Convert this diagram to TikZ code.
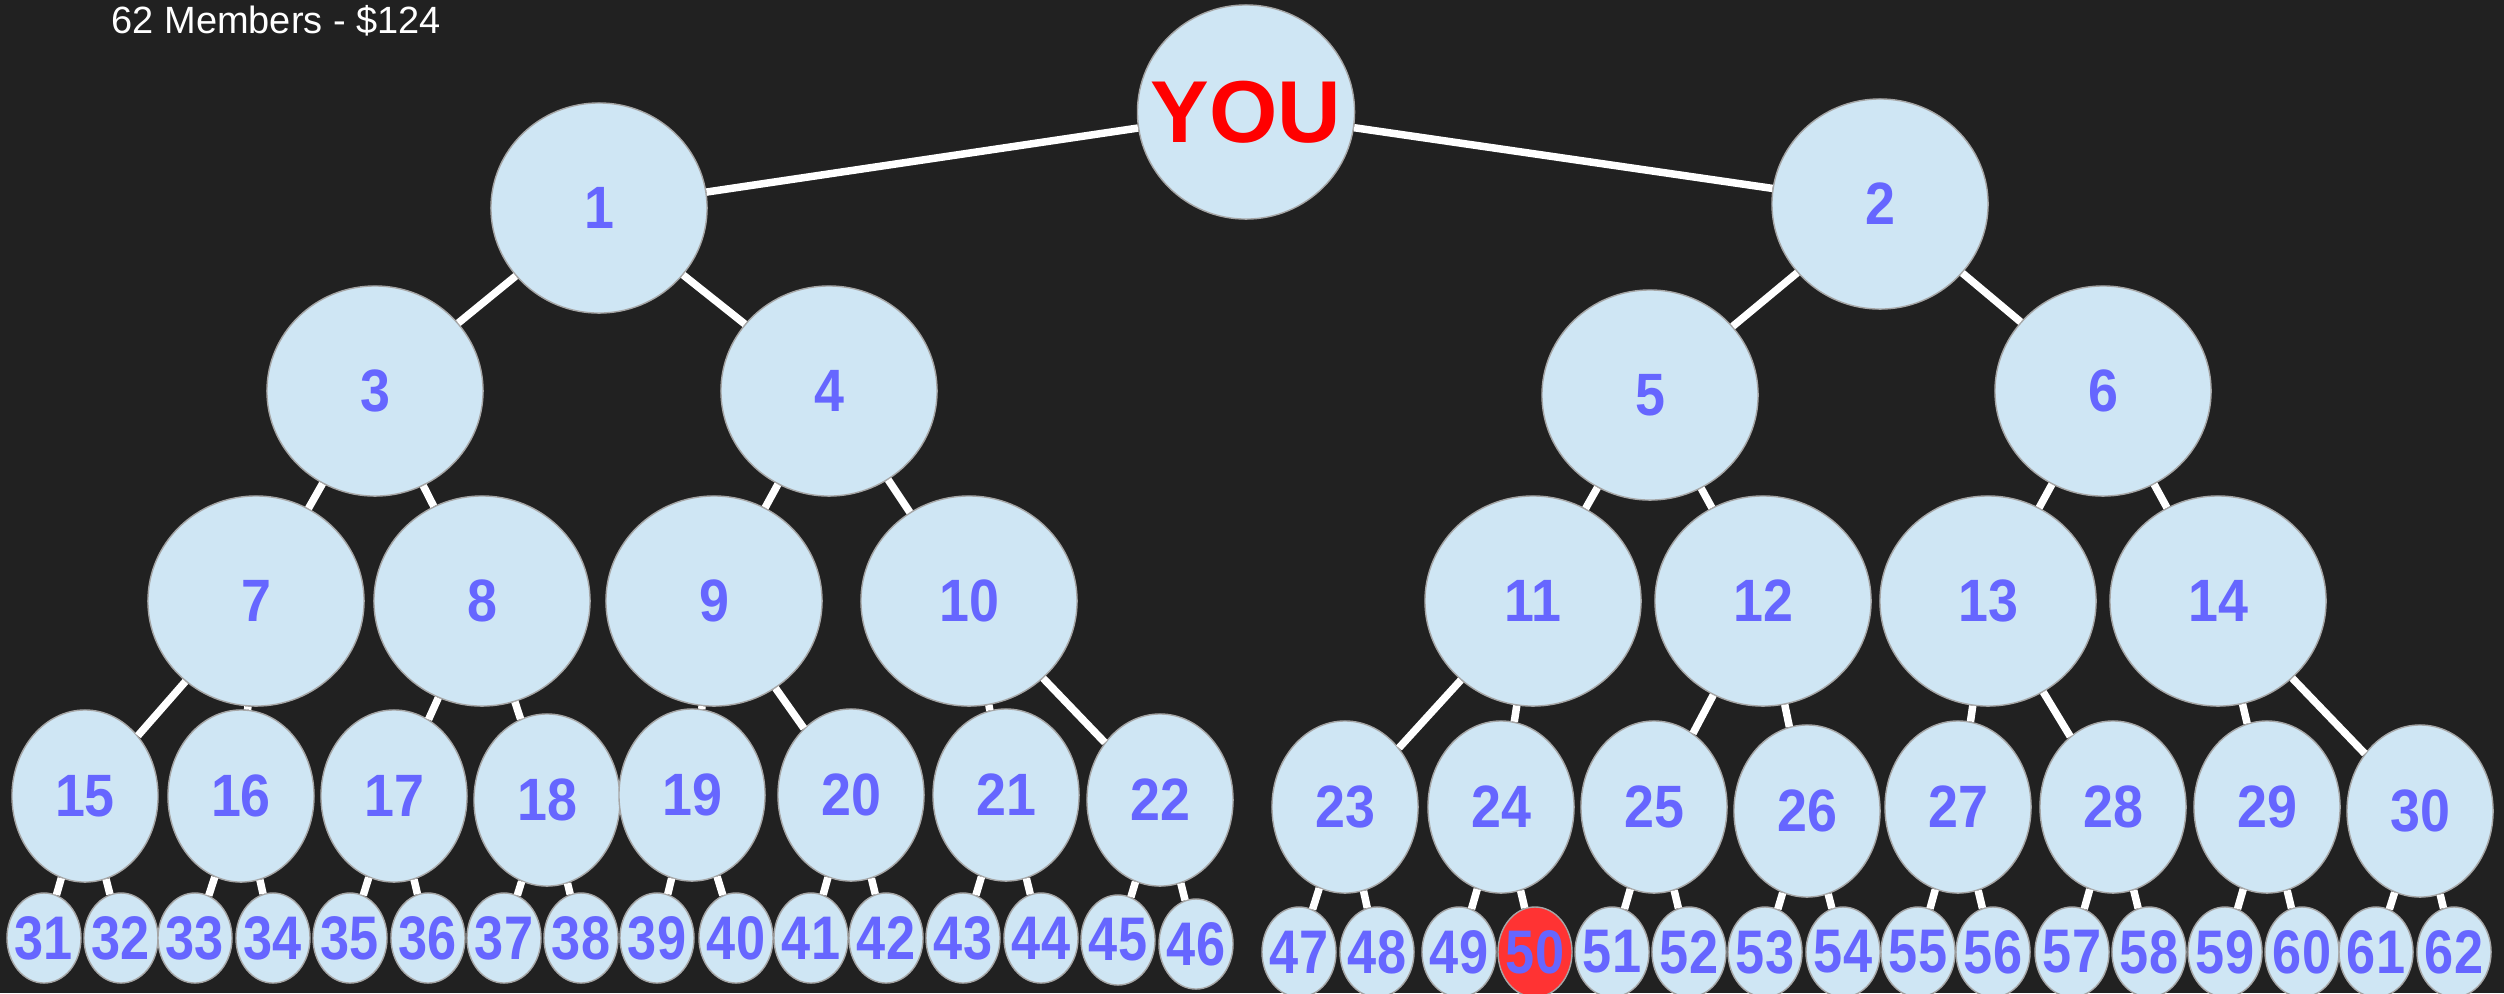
\documentclass[tikz,border=0pt]{standalone}
\usepackage{fontspec}
\setmainfont{Liberation Sans}
\newfontfamily\numfont{Liberation Sans}[FakeStretch=0.9]
\newfontfamily\leaffont{Liberation Sans}[FakeStretch=0.85]
\usepackage{xcolor}
\usetikzlibrary{shapes.geometric}

\definecolor{bgdark}{HTML}{212121}
\definecolor{bubblefill}{HTML}{CFE6F4}
\definecolor{numblue}{HTML}{6666FF}
\definecolor{hotred}{HTML}{FF3333}

\tikzset{
  bubble/.style={ellipse, draw=gray!70, line width=0.4pt, fill=bubblefill,
    inner sep=0pt, text=numblue,
    font=\numfont\fontsize{17}{20}\selectfont\bfseries},
  bigbubble/.style={bubble, minimum width=2.16cm, minimum height=2.10cm},
  midbubble/.style={bubble, minimum width=1.46cm, minimum height=1.72cm},
  leafbubble/.style={bubble, minimum width=0.74cm, minimum height=0.90cm,
    font=\leaffont\fontsize{17.5}{20}\selectfont\bfseries},
  link/.style={white, line width=0.075cm}
}

\begin{document}
\begin{tikzpicture}[x=0.01cm, y=-0.01cm]
  \fill[bgdark] (0,0) rectangle (2504,993);
  \useasboundingbox (0,0) rectangle (2504,993);

  \node[anchor=base west, inner sep=0pt, white, font=\fontsize{10.8}{13}\selectfont] (title) at (111,33) {62 Members - \$124};

  % top
  \node[bigbubble, minimum width=2.17cm, minimum height=2.14cm, text=red,
    font=\fontsize{25}{30}\selectfont\bfseries] (n0) at (1246,112) {\makebox[0pt]{YOU}};

  % levels 1-3
  \foreach \n/\x/\y in {1/599/208, 2/1880/204,
      3/375/391, 4/829/391, 5/1650/395, 6/2103/391,
      7/256/601, 8/482/601, 9/714/601, 10/969/601,
      11/1533/601, 12/1763/601, 13/1988/601, 14/2218/601}
    \node[bigbubble] (n\n) at (\x,\y) {\n};

  % level 4
  \foreach \n/\x/\y in {15/85/796, 16/241/796, 17/394/796, 18/547/800,
      19/692/795, 20/851/795, 21/1006/795, 22/1160/800,
      23/1345/807, 24/1501/807, 25/1654/807, 26/1807/811,
      27/1958/807, 28/2113/807, 29/2267/807, 30/2420/811}
    \node[midbubble] (n\n) at (\x,\y) {\makebox[0pt]{\n}};

  % level 5
  \foreach \n/\x/\y in {31/44/938, 32/121/938, 33/195/938, 34/273/938,
      35/350/938, 36/428/938, 37/504/938, 38/581/938,
      39/657/938, 40/736/938, 41/811/938, 42/886/938,
      43/963/938, 44/1041/938, 45/1118/940, 46/1196/944,
      47/1299/952, 48/1377/952, 49/1459/952, 51/1612/952,
      52/1689/952, 53/1765/952, 54/1843/952, 55/1918/952,
      56/1993/952, 57/2072/952, 58/2149/952, 59/2225/952,
      60/2302/952, 61/2376/952, 62/2454/952}
    \node[leafbubble] (n\n) at (\x,\y) {\makebox[0pt]{\n}};
  \node[leafbubble, fill=hotred] (n50) at (1535,952) {\makebox[0pt]{50}};

  % connectors
  \draw[link] (n0) -- (n1);
  \draw[link] (n0) -- (n2);
  \foreach \p in {1,...,30} {
    \pgfmathtruncatemacro\ca{2*\p+1}
    \pgfmathtruncatemacro\cb{2*\p+2}
    \draw[link] (n\p) -- (n\ca);
    \draw[link] (n\p) -- (n\cb);
  }
\end{tikzpicture}
\end{document}
